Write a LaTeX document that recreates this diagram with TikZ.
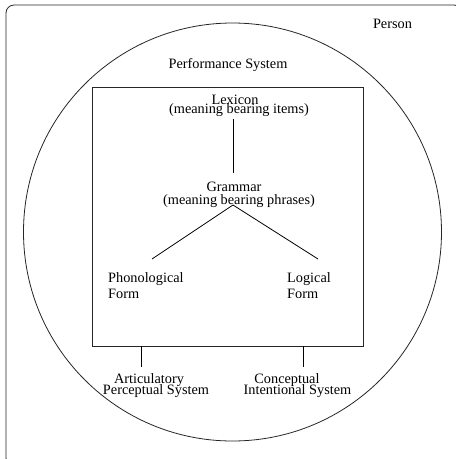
\documentclass[tikz,border=0pt]{standalone}
\usepackage{fontspec}
\setmainfont{Liberation Serif}
\begin{document}
\begin{tikzpicture}[x=1pt,y=-1pt,
  lbl/.style={inner sep=0pt, anchor=base, font=\fontsize{14.3}{17}\selectfont},
  lblw/.style={lbl, anchor=base west},
  frame/.style={draw=black!85, line width=0.8pt},
  link/.style={draw=black, line width=0.8pt}]
  \useasboundingbox (0,0) rectangle (456,459);
  \clip (0,0) rectangle (456,459);

  % person frame (extends past the lower right edge)
  \draw[frame, rounded corners=8pt] (6,5) rectangle (462,466);
  \node[lbl] (person) at (392.5,28) {Person};

  % performance system
  \draw[frame] (232.5,232) circle[radius=209];
  \node[lbl] (perf) at (228,68) {Performance System};

  % language faculty box
  \draw[frame] (92,87) rectangle (363,346);

  \node[lbl] (lex) at (235,104) {Lexicon};
  \node[lbl] (lexsub) at (239,113.5) {(meaning bearing items)};
  \node[lbl] (gram) at (234,191) {Grammar};
  \node[lbl] (gramsub) at (239,204) {(meaning bearing phrases)};

  \node[lblw] (phon) at (108,282) {Phonological};
  \node[lblw] (phonf) at (108,298) {Form};
  \node[lblw] (log) at (287,282) {Logical};
  \node[lblw] (logf) at (287,298) {Form};

  \node[lbl] (art) at (149,383) {Articulatory};
  \node[lbl] (artsub) at (156,394.5) {Perceptual System};
  \node[lbl] (con) at (287,383) {Conceptual};
  \node[lbl] (consub) at (297.5,394.5) {Intentional System};

  % connector end points
  \coordinate (lexfoot) at (233,119);
  \coordinate (gramtop) at (233,173);
  \coordinate (apex) at (233,205);
  \coordinate (phontop) at (152,259);
  \coordinate (logtop) at (318,259);
  \coordinate (apsTop) at (141,346);
  \coordinate (apsFoot) at (141,367);
  \coordinate (cisTop) at (303,346);
  \coordinate (cisFoot) at (303,367);

  \draw[link] (lexfoot) -- (gramtop);
  \draw[link] (apex) -- (phontop);
  \draw[link] (apex) -- (logtop);
  \draw[link] (apsTop) -- (apsFoot);
  \draw[link] (cisTop) -- (cisFoot);
\end{tikzpicture}
\end{document}
